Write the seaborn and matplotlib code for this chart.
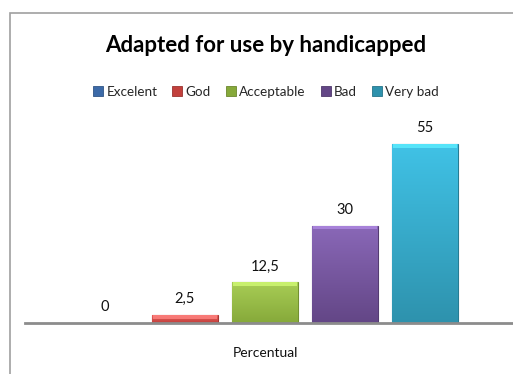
import numpy as np
import pandas as pd
import matplotlib
matplotlib.use("Agg")
import matplotlib.pyplot as plt
from matplotlib.colors import LinearSegmentedColormap, to_rgb
from matplotlib.patches import Patch, Rectangle
import seaborn as sns

# Survey data
group = "Percentual"
categories = ["Excelent", "God", "Acceptable", "Bad", "Very bad"]
values = [0, 2.5, 12.5, 30, 55]

# Top / bottom shades for each category's bar gradient
top_colors = ["#5A8FD6", "#EC6360", "#A8CD55", "#8A68B8", "#40C2E6"]
bottom_colors = ["#3C6AA8", "#C2403C", "#86A93A", "#634686", "#2E92AD"]

df = pd.DataFrame({"group": [group] * len(categories),
                   "category": categories,
                   "value": values})

sns.set_theme(style="white")
plt.rcParams["font.family"] = ["Lato", "DejaVu Sans"]

fig = plt.figure(figsize=(5.13, 3.74), dpi=100)
ax = fig.add_axes([25 / 513, 1 - 323 / 374, 1 - 25 / 513, 195 / 374])

sns.barplot(data=df, x="group", y="value", hue="category",
            hue_order=categories, palette=bottom_colors, width=1.0,
            gap=0.175, dodge=True, legend=False, ax=ax, saturation=1)

ax.set_xlim(-0.6, 0.62)
ax.set_ylim(0, 60)

# Replace flat fills with a vertical gradient plus a light bevel on top
bars = [p for p in ax.patches if isinstance(p, Rectangle)]
bars = sorted(bars, key=lambda p: p.get_x())
for bar, val, c_top, c_bot in zip(bars, values, top_colors, bottom_colors):
    x0, w, h = bar.get_x(), bar.get_width(), bar.get_height()
    if h <= 0:
        bar.set_visible(False)
        continue
    cmap = LinearSegmentedColormap.from_list("g", [c_bot, c_top])
    grad = np.linspace(0, 1, 256).reshape(-1, 1)
    bar.set_facecolor("none")
    bar.set_edgecolor(np.array(to_rgb(c_bot)) * 0.85)
    bar.set_linewidth(0.8)
    im = ax.imshow(grad, cmap=cmap, origin="lower", aspect="auto",
                   extent=(x0, x0 + w, 0, h), zorder=1)
    im.set_clip_path(bar)
    bevel = min(1.2, h * 0.5)
    light = np.clip(np.array(to_rgb(c_top)) * 1.12 + 0.08, 0, 1)
    ax.add_patch(Rectangle((x0 + w * 0.02, h - bevel), w * 0.96, bevel,
                           facecolor=light, edgecolor="none", alpha=0.8,
                           zorder=2))
    ax.set_xlim(-0.6, 0.62)
    ax.set_ylim(0, 60)

# Value labels above each bar
for bar, val in zip(bars, values):
    cx = bar.get_x() + bar.get_width() / 2
    txt = f"{val:g}".replace(".", ",")
    ax.annotate(txt, (cx, val), xytext=(0, 11.5), textcoords="offset points",
                ha="center", va="center", fontsize=10.5, color="#111111")

for s in ["top", "left", "right"]:
    ax.spines[s].set_visible(False)
ax.spines["bottom"].set_color("#8C8C8C")
ax.spines["bottom"].set_linewidth(2)
ax.set_yticks([])
ax.set_xlabel("")
ax.set_ylabel("")
ax.tick_params(axis="x", length=0, pad=17, labelsize=10, labelcolor="#111111")
ax.set_facecolor("none")

fig.text(266 / 513, 1 - 45 / 374, "Adapted for use by handicapped",
         ha="center", va="center", fontsize=16, fontweight="bold",
         color="#000000")

handles = [Patch(facecolor=c, edgecolor=np.array(to_rgb(c)) * 0.8, lw=0.6)
           for c in bottom_colors]
fig.legend(handles, categories, loc="center",
           bbox_to_anchor=(266 / 513, 1 - 92 / 374), ncol=5, frameon=False,
           fontsize=9.7, handlelength=0.75, handleheight=0.75,
           handletextpad=0.25, columnspacing=1.1, borderaxespad=0)

# Chart frame
fig.patches.append(Rectangle((9.5 / 513, -0.1), 1.2, 1.1 - 13.5 / 374,
                             transform=fig.transFigure, facecolor="none",
                             edgecolor="#A0A0A0", lw=1.2, zorder=0))

fig.savefig("out.png", dpi=100)
